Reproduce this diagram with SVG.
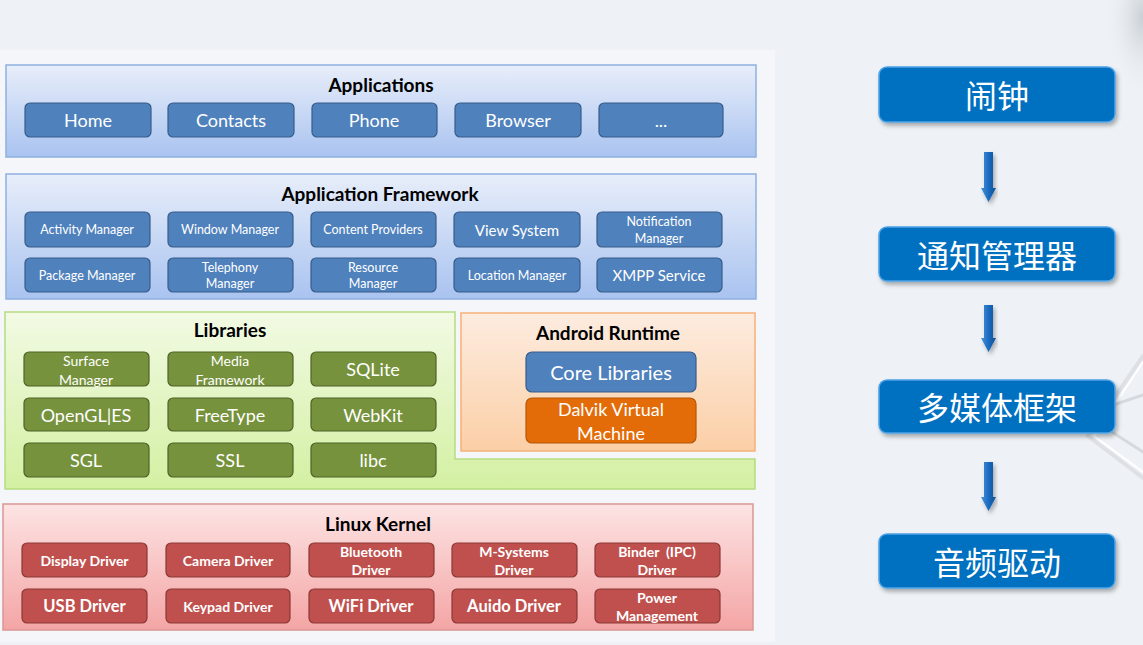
<svg xmlns="http://www.w3.org/2000/svg" width="1143" height="645" viewBox="0 0 1143 645">
<defs>
<linearGradient id="gApp" x1="0" y1="0" x2="0" y2="1"><stop offset="0" stop-color="#e8eefa"/><stop offset="1" stop-color="#a9c3f0"/></linearGradient>
<linearGradient id="gLib" x1="0" y1="0" x2="0" y2="1"><stop offset="0" stop-color="#f2fae4"/><stop offset="1" stop-color="#d3f0a2"/></linearGradient>
<linearGradient id="gRt" x1="0" y1="0" x2="0" y2="1"><stop offset="0" stop-color="#fdece0"/><stop offset="1" stop-color="#fbcfa6"/></linearGradient>
<linearGradient id="gKer" x1="0" y1="0" x2="0" y2="1"><stop offset="0" stop-color="#fde4e4"/><stop offset="1" stop-color="#f4a5a5"/></linearGradient>
<linearGradient id="gArr" x1="0" y1="0" x2="1" y2="0"><stop offset="0" stop-color="#4a90d8"/><stop offset="0.5" stop-color="#1a6cc0"/><stop offset="1" stop-color="#0d4f96"/></linearGradient>
<radialGradient id="gCorner" cx="1" cy="0.2" r="0.9"><stop offset="0" stop-color="#c9ced4"/><stop offset="1" stop-color="#eef2f6" stop-opacity="0"/></radialGradient>
<filter id="sh" x="-10%" y="-20%" width="120%" height="150%"><feDropShadow dx="2" dy="3" stdDeviation="2" flood-color="#000" flood-opacity="0.3"/></filter>
</defs>
<style>
.t{font-family:"Lato","Liberation Sans",sans-serif;fill:#fff;text-anchor:middle;dominant-baseline:central}
.h{font-family:"Lato","Liberation Sans",sans-serif;fill:#000;font-weight:bold;font-size:19px;text-anchor:middle;dominant-baseline:central}
.b{fill:#4f81bd;stroke:#385d8a;stroke-width:1.2}
.g{fill:#76923c;stroke:#4f6228;stroke-width:1.2}
.r{fill:#c0504d;stroke:#8c3836;stroke-width:1.2}
.o{fill:#e36c09;stroke:#b65708;stroke-width:1.2}
.s18{font-size:18px}
.s13{font-size:12.5px}
.s14{font-size:14px}
.s15{font-size:15px}
.k{font-size:14px;font-weight:bold}
.k16{font-size:16.5px;font-weight:bold}
.cn{font-family:"Noto Sans CJK SC","Noto Sans",sans-serif;fill:#fff;font-size:32px;text-anchor:middle;dominant-baseline:central}
.cb{fill:#0070c0;stroke:#4ea3e6;stroke-width:1.5}
.deco{fill:none;stroke-linecap:round}
</style>
<rect x="0" y="0" width="1143" height="645" fill="#eef2f6"/>
<rect x="1100" y="0" width="43" height="90" fill="url(#gCorner)"/>
<g class="deco">
<path d="M1143 356 L1088 436 L1143 478" stroke="#dde1e6" stroke-width="4"/>
<path d="M1143 362 L1094 436 L1143 472" stroke="#ffffff" stroke-width="2"/>
<path d="M1143 395 L1116 404 L1106 420 L1112 432 L1143 452" stroke="#d6dade" stroke-width="3"/>
</g>
<rect x="0" y="50" width="775" height="592" fill="#f4f6f9"/>

<g id="applications">
<rect x="6" y="65" width="750" height="92" fill="url(#gApp)" stroke="#8fb0e0" stroke-width="1.5"/>
<text class="h" x="381" y="84">Applications</text>
<rect class="b" x="25" y="103" width="126" height="34" rx="5"/><text class="t s18" x="88" y="120">Home</text>
<rect class="b" x="168" y="103" width="126" height="34" rx="5"/><text class="t s18" x="231" y="120">Contacts</text>
<rect class="b" x="312" y="103" width="125" height="34" rx="5"/><text class="t s18" x="374" y="120">Phone</text>
<rect class="b" x="455" y="103" width="126" height="34" rx="5"/><text class="t s18" x="518" y="120">Browser</text>
<rect class="b" x="599" y="103" width="124" height="34" rx="5"/><text class="t s18" x="661" y="120">...</text>
</g>

<g id="framework">
<rect x="6" y="174" width="750" height="125" fill="url(#gApp)" stroke="#8fb0e0" stroke-width="1.5"/>
<text class="h" x="380" y="193">Application Framework</text>
<rect class="b" x="25" y="212" width="125" height="35" rx="5"/><text class="t s13" x="87" y="229.5">Activity Manager</text>
<rect class="b" x="168" y="212" width="125" height="35" rx="5"/><text class="t s13" x="230" y="229.5">Window Manager</text>
<rect class="b" x="311" y="212" width="125" height="35" rx="5"/><text class="t s13" x="373" y="229.5">Content Providers</text>
<rect class="b" x="454" y="212" width="126" height="35" rx="5"/><text class="t s15" x="517" y="229.5">View System</text>
<rect class="b" x="597" y="212" width="125" height="35" rx="5"/><text class="t s13" x="659" y="221">Notification</text><text class="t s13" x="659" y="238">Manager</text>
<rect class="b" x="25" y="258" width="125" height="34" rx="5"/><text class="t s13" x="87" y="275">Package Manager</text>
<rect class="b" x="168" y="258" width="125" height="34" rx="5"/><text class="t s13" x="230" y="267">Telephony</text><text class="t s13" x="230" y="283">Manager</text>
<rect class="b" x="311" y="258" width="125" height="34" rx="5"/><text class="t s13" x="373" y="267">Resource</text><text class="t s13" x="373" y="283">Manager</text>
<rect class="b" x="454" y="258" width="126" height="34" rx="5"/><text class="t s13" x="517" y="275">Location Manager</text>
<rect class="b" x="597" y="258" width="125" height="34" rx="5"/><text class="t s15" x="659" y="275">XMPP Service</text>
</g>

<g id="libraries">
<path d="M5 312 L455 312 L455 459 L755 459 L755 489 L5 489 Z" fill="url(#gLib)" stroke="#b5dc80" stroke-width="1.5"/>
<text class="h" x="230" y="329">Libraries</text>
<rect class="g" x="24" y="352" width="125" height="34" rx="5"/><text class="t s14" x="86" y="360">Surface</text><text class="t s14" x="86" y="379">Manager</text>
<rect class="g" x="168" y="352" width="125" height="34" rx="5"/><text class="t s14" x="230" y="360">Media</text><text class="t s14" x="230" y="379">Framework</text>
<rect class="g" x="311" y="352" width="125" height="34" rx="5"/><text class="t s18" x="373" y="369">SQLite</text>
<rect class="g" x="24" y="398" width="125" height="33" rx="5"/><text class="t s18" x="86" y="414.5">OpenGL|ES</text>
<rect class="g" x="168" y="398" width="125" height="33" rx="5"/><text class="t s18" x="230" y="414.5">FreeType</text>
<rect class="g" x="311" y="398" width="125" height="33" rx="5"/><text class="t s18" x="373" y="414.5">WebKit</text>
<rect class="g" x="24" y="443" width="125" height="34" rx="5"/><text class="t s18" x="86" y="460">SGL</text>
<rect class="g" x="168" y="443" width="125" height="34" rx="5"/><text class="t s18" x="230" y="460">SSL</text>
<rect class="g" x="311" y="443" width="125" height="34" rx="5"/><text class="t s18" x="373" y="460">libc</text>
</g>

<g id="runtime">
<rect x="461" y="313" width="294" height="138" fill="url(#gRt)" stroke="#f5b078" stroke-width="1.5"/>
<text class="h" x="608" y="332">Android Runtime</text>
<rect class="b" x="526" y="352" width="170" height="40" rx="6"/><text class="t" style="font-size:20px" x="611" y="372">Core Libraries</text>
<rect class="o" x="526" y="398" width="170" height="45" rx="6"/><text class="t s18" x="611" y="409">Dalvik Virtual</text><text class="t s18" x="611" y="433">Machine</text>
</g>

<g id="kernel">
<rect x="3" y="504" width="750" height="126" fill="url(#gKer)" stroke="#d99694" stroke-width="1.5"/>
<text class="h" x="378" y="523">Linux Kernel</text>
<rect class="r" x="22" y="543" width="125" height="34" rx="5"/><text class="t k" x="84.5" y="560">Display Driver</text>
<rect class="r" x="166" y="543" width="124" height="34" rx="5"/><text class="t k" x="228" y="560">Camera Driver</text>
<rect class="r" x="309" y="543" width="125" height="34" rx="5"/><text class="t k" x="371" y="551">Bluetooth</text><text class="t k" x="371" y="569">Driver</text>
<rect class="r" x="452" y="543" width="125" height="34" rx="5"/><text class="t k" x="514" y="551">M-Systems</text><text class="t k" x="514" y="569">Driver</text>
<rect class="r" x="595" y="543" width="125" height="34" rx="5"/><text class="t k" x="657" y="551" style="white-space:pre">Binder  (IPC)</text><text class="t k" x="657" y="569">Driver</text>
<rect class="r" x="22" y="589" width="125" height="34" rx="5"/><text class="t k16" x="84.5" y="606">USB Driver</text>
<rect class="r" x="166" y="589" width="124" height="34" rx="5"/><text class="t k" x="228" y="606">Keypad Driver</text>
<rect class="r" x="309" y="589" width="125" height="34" rx="5"/><text class="t k16" x="371" y="606">WiFi Driver</text>
<rect class="r" x="452" y="589" width="125" height="34" rx="5"/><text class="t k16" x="514" y="606">Auido Driver</text>
<rect class="r" x="595" y="589" width="125" height="34" rx="5"/><text class="t k" x="657" y="597">Power</text><text class="t k" x="657" y="615">Management</text>
</g>

<g id="alarm"><rect class="cb" x="879" y="67" width="236" height="55" rx="8" filter="url(#sh)"/><text class="cn" x="997" y="94">闹钟</text></g>
<g id="notify"><rect class="cb" x="879" y="227" width="236" height="54" rx="8" filter="url(#sh)"/><text class="cn" x="997" y="254">通知管理器</text></g>
<g id="media"><rect class="cb" x="879" y="380" width="236" height="53" rx="8" filter="url(#sh)"/><text class="cn" x="997" y="406">多媒体框架</text></g>
<g id="audio"><rect class="cb" x="879" y="534" width="236" height="54" rx="8" filter="url(#sh)"/><text class="cn" x="997" y="561">音频驱动</text></g>

<g id="connectors" fill="url(#gArr)" filter="url(#sh)">
<path d="M984 152 L993 152 L993 188 L996 188 L988.5 202 L981 188 L984 188 Z"/>
<path d="M984 305 L993 305 L993 338 L996 338 L988.5 352 L981 338 L984 338 Z"/>
<path d="M984 462 L993 462 L993 497 L996 497 L988.5 511 L981 497 L984 497 Z"/>
</g>
</svg>
